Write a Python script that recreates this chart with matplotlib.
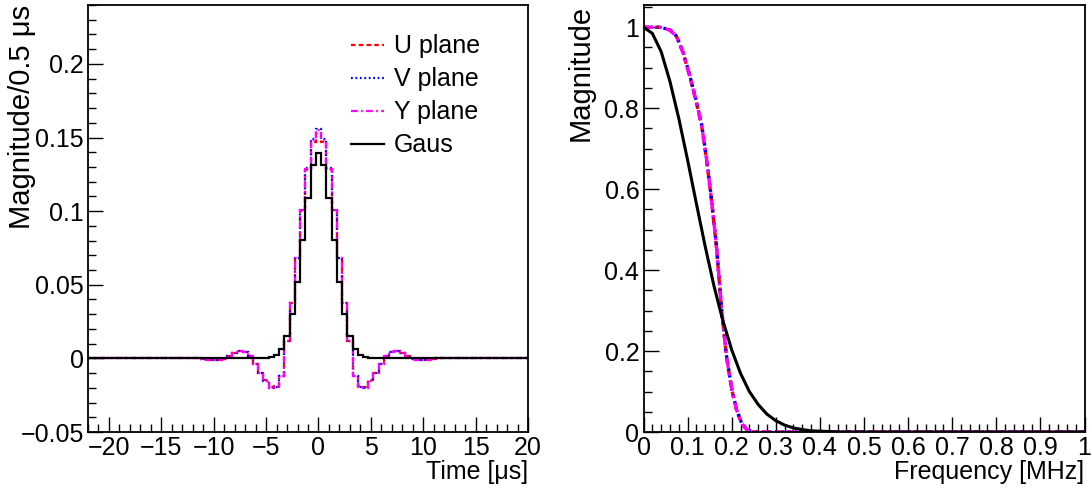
import numpy as np
import matplotlib
matplotlib.use("Agg")
import matplotlib.pyplot as plt
from matplotlib.ticker import MultipleLocator

plt.rcParams["font.family"] = ["Liberation Sans", "DejaVu Sans"]
plt.rcParams["axes.unicode_minus"] = True

# ---- time domain: histograms with 0.5 us bins ----
BIN_WIDTH = 0.5
FIRST_CENTRE, LAST_CENTRE = -22.0, 20.0

# bins -11.5 .. 11.5 us
wire_centres = np.arange(-11.5, 11.51, BIN_WIDTH)
u_time = [0.0, -0.0005, -0.001, -0.0012, -0.001, -0.0002, 0.0015, 0.0035, 0.005, 0.0045,
          0.0015, -0.004, -0.010, -0.015, -0.0195, -0.019, -0.012, 0.012, 0.0375, 0.068,
          0.100, 0.128, 0.147, 0.153, 0.147, 0.128, 0.100, 0.068, 0.0375, 0.012,
          -0.012, -0.019, -0.0195, -0.015, -0.010, -0.004, 0.0015, 0.0045, 0.005, 0.0035,
          0.0015, -0.0002, -0.001, -0.0012, -0.001, -0.0005, 0.0]
v_time = [0.0, -0.0005, -0.001, -0.0012, -0.001, -0.0002, 0.0015, 0.0035, 0.0052, 0.0046,
          0.0016, -0.004, -0.010, -0.0155, -0.020, -0.0192, -0.012, 0.012, 0.0378, 0.0685,
          0.101, 0.129, 0.149, 0.156, 0.149, 0.129, 0.101, 0.0685, 0.0378, 0.012,
          -0.012, -0.0192, -0.020, -0.0155, -0.010, -0.004, 0.0016, 0.0046, 0.0052, 0.0035,
          0.0015, -0.0002, -0.001, -0.0012, -0.001, -0.0005, 0.0]
y_time = [0.0, -0.0005, -0.001, -0.0012, -0.001, -0.0002, 0.0015, 0.0035, 0.0051, 0.0045,
          0.0015, -0.004, -0.010, -0.0152, -0.0198, -0.0191, -0.012, 0.012, 0.0376, 0.068,
          0.1005, 0.1285, 0.148, 0.155, 0.148, 0.1285, 0.1005, 0.068, 0.0376, 0.012,
          -0.012, -0.0191, -0.0198, -0.0152, -0.010, -0.004, 0.0015, 0.0045, 0.0051, 0.0035,
          0.0015, -0.0002, -0.001, -0.0012, -0.001, -0.0005, 0.0]

# bins -5 .. 5 us
gaus_centres = np.arange(-5.0, 5.01, BIN_WIDTH)
gaus_time = [0.0, 0.0007, 0.0023, 0.0064, 0.0151, 0.0302, 0.052, 0.0801, 0.1087, 0.1313,
             0.1395, 0.1313, 0.1087, 0.0801, 0.052, 0.0302, 0.0151, 0.0064, 0.0023, 0.0007, 0.0]

# ---- frequency domain ----
wire_freq = [0.0, 0.02, 0.037, 0.06, 0.075, 0.09, 0.105, 0.12, 0.132, 0.143, 0.154, 0.166,
             0.177, 0.188, 0.2, 0.211, 0.222, 0.234, 0.25, 0.3, 0.4, 1.0]
u_freq = [1.0, 1.0, 1.0, 0.993, 0.977, 0.936, 0.878, 0.813, 0.755, 0.672, 0.573, 0.45,
          0.302, 0.187, 0.105, 0.055, 0.022, 0.006, 0.0, 0.0, 0.0, 0.0]
v_freq = [1.0, 1.0, 1.0, 0.994, 0.978, 0.938, 0.881, 0.817, 0.759, 0.677, 0.578, 0.455,
          0.306, 0.19, 0.107, 0.056, 0.023, 0.006, 0.0, 0.0, 0.0, 0.0]
y_freq = [1.0, 1.0, 1.0, 0.993, 0.977, 0.937, 0.879, 0.815, 0.757, 0.674, 0.575, 0.452,
          0.304, 0.188, 0.106, 0.055, 0.022, 0.006, 0.0, 0.0, 0.0, 0.0]
gaus_fq = [0.0, 0.02, 0.04, 0.06, 0.08, 0.10, 0.12, 0.14, 0.16, 0.18, 0.20, 0.22, 0.24,
           0.26, 0.28, 0.30, 0.32, 0.34, 0.36, 0.38, 0.40, 0.45, 1.0]
gaus_freq = [1.0, 0.985, 0.94, 0.866, 0.775, 0.672, 0.564, 0.458, 0.36, 0.275, 0.203, 0.145,
             0.10, 0.068, 0.044, 0.028, 0.017, 0.010, 0.006, 0.003, 0.002, 0.0, 0.0]

labels = ["U plane", "V plane", "Y plane", "Gaus"]
colors = ["#ff0000", "#0000ff", "#ff00ff", "black"]
styles = [(0, (2, 1.5)), (0, (0.8, 1.2)), (0, (3, 1.5, 0.8, 1.5)), "-"]

FS = 18
TITLE_FS = 21


def _full_hist(centres, values):
    n_bins = int(round((LAST_CENTRE - FIRST_CENTRE) / BIN_WIDTH)) + 1
    full = np.zeros(n_bins)
    idx = np.rint((np.asarray(centres) - FIRST_CENTRE) / BIN_WIDTH).astype(int)
    full[idx] = values
    edges = FIRST_CENTRE - BIN_WIDTH / 2 + BIN_WIDTH * np.arange(n_bins + 1)
    return full, edges


def _root_style(ax):
    for sp in ax.spines.values():
        sp.set_linewidth(1.3)
    ax.tick_params(which="both", direction="in", top=False, right=False,
                   labelsize=FS, width=1.0)
    ax.tick_params(which="major", length=11, pad=3)
    ax.tick_params(which="minor", length=5.5)


fig = plt.figure(figsize=(10.91, 4.9), dpi=100)

# left: time domain
ax1 = fig.add_axes([88 / 1091, 58 / 490, 440 / 1091, 427 / 490])
series = [u_time, v_time, y_time]
for vals, c, ls, lab in zip(series, colors, styles, labels):
    h, e = _full_hist(wire_centres, vals)
    ax1.stairs(h, e, baseline=None, color=c, linestyle=ls, linewidth=1.6, label=lab)
h, e = _full_hist(gaus_centres, gaus_time)
ax1.stairs(h, e, baseline=None, color="black", linewidth=1.6, label=labels[3])

ax1.set_xlim(-22, 20)
ax1.set_ylim(-0.05, 0.24)
ax1.set_xticks([-20, -15, -10, -5, 0, 5, 10, 15, 20])
ax1.set_xticklabels(["\u221220", "\u221215", "\u221210", "\u22125", "0", "5", "10", "15", "20"])
ax1.set_yticks([-0.05, 0, 0.05, 0.1, 0.15, 0.2])
ax1.set_yticklabels(["\u22120.05", "0", "0.05", "0.1", "0.15", "0.2"])
ax1.xaxis.set_minor_locator(MultipleLocator(1))
ax1.yaxis.set_minor_locator(MultipleLocator(0.01))
_root_style(ax1)
ax1.set_xlabel("Time [\u03bcs]", fontsize=FS, loc="right", labelpad=0)
ax1.set_ylabel("Magnitude/0.5 \u03bcs", fontsize=TITLE_FS, loc="top")
ax1.yaxis.set_label_coords(-0.118, 1.0)
ax1.legend(loc="upper right", bbox_to_anchor=(0.93, 0.972), frameon=False, fontsize=FS,
           handlelength=1.3, handletextpad=0.4, labelspacing=0.36, borderpad=0.2)

# right: frequency domain
ax2 = fig.add_axes([643.5 / 1091, 58 / 490, 441 / 1091, 427 / 490])
for f, vals, c, ls in zip([wire_freq] * 3, [u_freq, v_freq, y_freq], colors, styles):
    ax2.plot(f, vals, color=c, linestyle=ls, linewidth=2.4)
ax2.plot(gaus_fq, gaus_freq, color="black", linewidth=2.2)
ax2.set_xlim(0, 1)
ax2.set_ylim(0, 1.055)
ax2.set_xticks(np.round(np.arange(0, 1.01, 0.1), 1))
ax2.set_xticklabels(["0", "0.1", "0.2", "0.3", "0.4", "0.5", "0.6", "0.7", "0.8", "0.9", "1"])
ax2.set_yticks([0, 0.2, 0.4, 0.6, 0.8, 1.0])
ax2.set_yticklabels(["0", "0.2", "0.4", "0.6", "0.8", "1"])
ax2.xaxis.set_minor_locator(MultipleLocator(0.02))
ax2.yaxis.set_minor_locator(MultipleLocator(0.05))
_root_style(ax2)
ax2.set_xlabel("Frequency [MHz]", fontsize=FS, loc="right", labelpad=0)
ax2.set_ylabel("Magnitude", fontsize=TITLE_FS, loc="top")
ax2.yaxis.set_label_coords(-0.11, 1.0)

fig.savefig("out.png", dpi=100)
